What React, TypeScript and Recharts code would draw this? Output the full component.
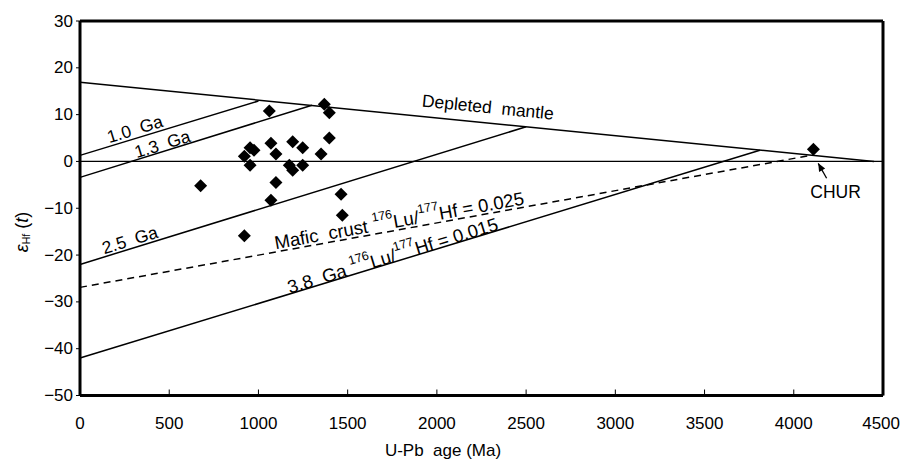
import { ComposedChart, Scatter, XAxis, YAxis, ReferenceLine } from 'recharts';

// U-Pb age (Ma) vs epsilon Hf(t)
const xTicks = [0, 500, 1000, 1500, 2000, 2500, 3000, 3500, 4000, 4500];
const yTicks = [-50, -40, -30, -20, -10, 0, 10, 20, 30];

const zircons = [
  { x: 1061, y: 10.8 }, { x: 1369, y: 12.2 }, { x: 1397, y: 10.4 }, { x: 1397, y: 5.0 },
  { x: 1351, y: 1.6 }, { x: 1248, y: 2.9 }, { x: 1192, y: 4.2 }, { x: 1070, y: 3.9 },
  { x: 1098, y: 1.6 }, { x: 953, y: 2.9 }, { x: 975, y: 2.4 }, { x: 921, y: 1.1 },
  { x: 953, y: -0.8 }, { x: 1173, y: -0.8 }, { x: 1192, y: -1.9 }, { x: 1248, y: -0.8 },
  { x: 1098, y: -4.5 }, { x: 676, y: -5.2 }, { x: 1070, y: -8.3 }, { x: 1463, y: -7.0 },
  { x: 1470, y: -11.5 }, { x: 921, y: -15.9 }, { x: 4110, y: 2.6 },
];

// evolution lines, end points [age, eHf]
const depletedMantle = [{ x: 0, y: 16.9 }, { x: 4450, y: 0 }];
const line10 = [{ x: 0, y: 1.3 }, { x: 1000, y: 12.9 }];
const line13 = [{ x: 0, y: -3.4 }, { x: 1300, y: 12.0 }];
const line25 = [{ x: 0, y: -22 }, { x: 2500, y: 7.4 }];
const line38 = [{ x: 0, y: -42 }, { x: 3810, y: 2.4 }];
const maficCrust = [{ x: 0, y: -26.9 }, { x: 4110, y: 1.4 }];
const churArrow = [{ x: 4184, y: -3.6 }, { x: 4137, y: -0.4 }];

const lineLabels = [
  { x: 308, y: 6.9, angle: -16.9, size: 17.5, parts: [['1.0  Ga', 0]] },
  { x: 462, y: 3.7, angle: -17.2, size: 17.5, parts: [['1.3  Ga', 0]] },
  { x: 280, y: -16.8, angle: -17.1, size: 17.5, parts: [['2.5  Ga', 0]] },
  { x: 2286, y: 11.6, angle: 5.7, size: 17.5, parts: [['Depleted  mantle', 0]] },
  { x: 1788, y: -12.5, angle: -10.2, size: 18.5, parts: [['Mafic  crust ', 0], ['176', 1], ['Lu/', 0], ['177', 1], ['Hf = 0.025', 0]] },
  { x: 1751, y: -20.0, angle: -17.0, size: 18.5, parts: [['3.8  Ga ', 0], ['176', 1], ['Lu/', 0], ['177', 1], ['Hf = 0.015', 0]] },
  { x: 4234, y: -6.6, angle: 0, size: 17.5, parts: [['CHUR', 0]] },
];
const arrowHead = [{ x: 4137, y: -0.4 }];

const FONT = '"Liberation Sans", Arial, sans-serif';

const Diamond = (props: any) => {
  const { cx, cy } = props;
  const r = 6.5;
  return <path d={`M${cx},${cy - r}L${cx + r},${cy}L${cx},${cy + r}L${cx - r},${cy}Z`} fill="#000" />;
};

const LineLabel = (props: any) => {
  const { cx, cy, payload } = props;
  return (
    <text
      x={cx}
      y={cy}
      transform={`rotate(${payload.angle} ${cx} ${cy})`}
      textAnchor="middle"
      dominantBaseline="central"
      fontFamily={FONT}
      fontSize={payload.size}
      fill="#000"
      style={{ whiteSpace: 'pre' }}
    >
      {payload.parts.map((p: any, i: number) =>
        p[1] ? (
          <tspan key={i} fontSize={12.5} dy={-7}>{p[0]}</tspan>
        ) : (
          <tspan key={i} dy={i > 0 && payload.parts[i - 1][1] ? 7 : 0}>{p[0]}</tspan>
        )
      )}
    </text>
  );
};

const ArrowHead = (props: any) => {
  const { cx, cy } = props;
  const a = (Math.atan2(15, 8.4) * 180) / Math.PI;
  return (
    <path
      d={`M${cx},${cy}L${cx - 3.5},${cy + 8}L${cx + 3.5},${cy + 8}Z`}
      transform={`rotate(${-(90 - a)} ${cx} ${cy})`}
      fill="#000"
    />
  );
};

const XTick = (props: any) => {
  const { x, y, payload } = props;
  const last = payload.value === 4500;
  return (
    <g>
      <line x1={x} y1={y} x2={x} y2={y - 6} stroke="#000" strokeWidth={1} />
      <text x={last ? x + 17 : x} y={y + 33} textAnchor={last ? 'end' : 'middle'} fontFamily={FONT} fontSize={17} fill="#000">
        {payload.value}
      </text>
    </g>
  );
};

const YTick = (props: any) => {
  const { x, y, payload } = props;
  const v = payload.value;
  return (
    <g>
      <line x1={x - 4} y1={y} x2={x} y2={y} stroke="#000" strokeWidth={1} />
      <text x={x - 7} y={y} textAnchor="end" dominantBaseline="central" fontFamily={FONT} fontSize={17} fill="#000">
        {v < 0 ? `\u2212${-v}` : v}
      </text>
    </g>
  );
};

const XLabel = (props: any) => {
  const { viewBox } = props;
  return (
    <text x={viewBox.x + 363} y={viewBox.y + 55} textAnchor="middle" dominantBaseline="central"
      fontFamily={FONT} fontSize={17} fill="#000" style={{ whiteSpace: 'pre' }}>
      U-Pb  age (Ma)
    </text>
  );
};

const YLabel = () => (
  <text x={14} y={224} textAnchor="middle" dominantBaseline="central" transform="rotate(-90 14 224)"
    fontFamily={FONT} fontSize={18} fill="#000">
    <tspan fontStyle="italic">ε</tspan>
    <tspan fontSize={10.5} dy={4}>Hf</tspan>
    <tspan dy={-4}> (</tspan>
    <tspan fontStyle="italic">t</tspan>
    <tspan>)</tspan>
  </text>
);

export default function App() {
  return (
    <div style={{ position: 'absolute', left: 8, top: 8, width: 893, height: 453 }}>
      <ComposedChart width={893} height={453} margin={{ top: 13, right: 18, left: 12, bottom: 0 }}>
        <XAxis
          type="number"
          dataKey="x"
          domain={[0, 4500]}
          ticks={xTicks}
          interval={0}
          tickSize={0}
          tickMargin={0}
          tickLine={false}
          tick={<XTick />}
          axisLine={{ stroke: '#000', strokeWidth: 3 }}
          height={65.5}
          label={<XLabel />}
        />
        <YAxis
          type="number"
          dataKey="y"
          domain={[-50, 30]}
          ticks={yTicks}
          interval={0}
          tickSize={0}
          tickMargin={0}
          tickLine={false}
          tick={<YTick />}
          axisLine={{ stroke: '#000', strokeWidth: 3 }}
          width={60}
          label={<YLabel />}
        />
        <ReferenceLine y={30} stroke="#000" strokeWidth={3} />
        <ReferenceLine x={4500} stroke="#000" strokeWidth={3} />
        <ReferenceLine y={0} stroke="#000" strokeWidth={1.3} />
        <ReferenceLine segment={depletedMantle} stroke="#000" strokeWidth={1.5} />
        <ReferenceLine segment={line10} stroke="#000" strokeWidth={1.5} />
        <ReferenceLine segment={line13} stroke="#000" strokeWidth={1.5} />
        <ReferenceLine segment={line25} stroke="#000" strokeWidth={1.5} />
        <ReferenceLine segment={line38} stroke="#000" strokeWidth={1.5} />
        <ReferenceLine segment={maficCrust} stroke="#000" strokeWidth={1.5} strokeDasharray="7 5" />
        <ReferenceLine segment={churArrow} stroke="#000" strokeWidth={1.3} />
        <Scatter data={zircons} shape={<Diamond />} isAnimationActive={false} />
        <Scatter data={lineLabels} shape={<LineLabel />} isAnimationActive={false} />
        <Scatter data={arrowHead} shape={<ArrowHead />} isAnimationActive={false} />
      </ComposedChart>
    </div>
  );
}
